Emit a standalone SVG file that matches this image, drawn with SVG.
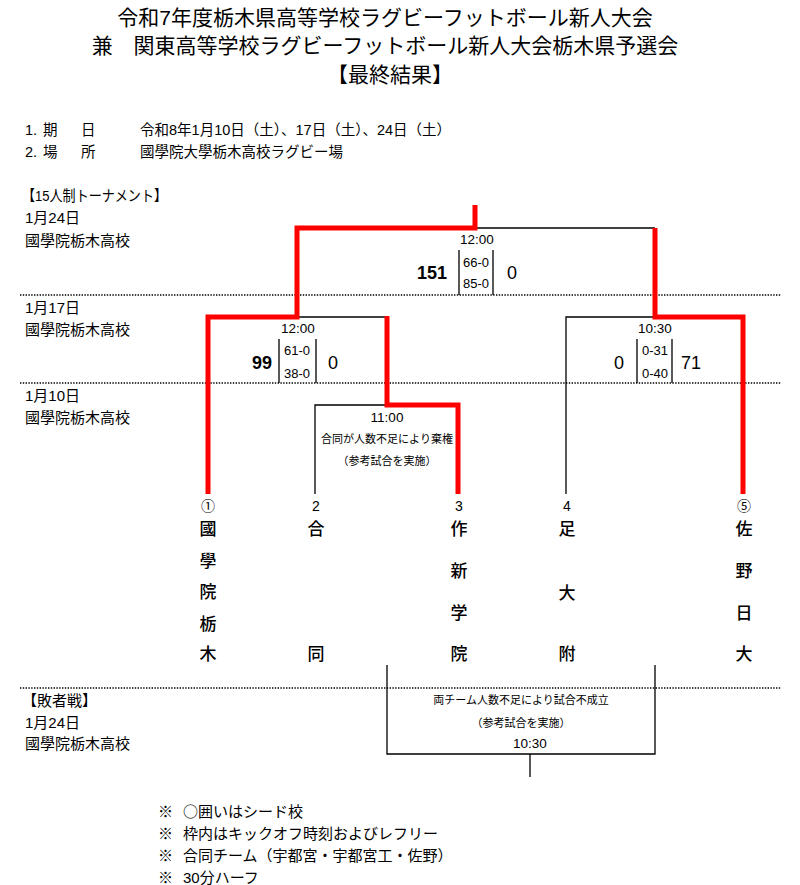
<svg xmlns="http://www.w3.org/2000/svg" width="800" height="885" viewBox="0 0 800 885">
<style>
text{font-family:"Liberation Sans","Noto Sans CJK JP",sans-serif;fill:#000}
.title{font-size:21px;text-anchor:middle}
.info{font-size:14.5px}
.lbl{font-size:15px}
.time{font-size:13.5px;text-anchor:middle}
.sc{font-size:13px;text-anchor:middle}
.big{font-size:18px;text-anchor:middle;font-weight:bold}
.reg{font-size:18px;text-anchor:middle}
.small{font-size:11px;text-anchor:middle}
.num{font-size:14px;text-anchor:middle}
.team{font-size:17px;text-anchor:middle;font-weight:500}
.note{font-size:15px}
.cjk{font-family:"Noto Sans CJK JP",sans-serif}
.dot{stroke:#000;stroke-width:1.4;stroke-dasharray:1.4 1.4;fill:none}
.blk{stroke:#000;stroke-width:1.3;fill:none}
.red{stroke:#ff0000;stroke-width:5;fill:none;stroke-linejoin:miter}
</style>
<rect width="800" height="885" fill="#fff"/>
<g id="title">
<text class="title" x="385" y="25">令和7年度栃木県高等学校ラグビーフットボール新人大会</text>
<text class="title" x="385" y="53">兼　関東高等学校ラグビーフットボール新人大会栃木県予選会</text>
<text class="title" x="390" y="82">【最終結果】</text>
</g>
<g id="info">
<text class="info" x="25" y="135">1.</text><text class="info" x="43" y="135">期</text><text class="info" x="81" y="135">日</text>
<text class="info" x="140" y="135">令和8年1月10日（土）、17日（土）、24日（土）</text>
<text class="info" x="25" y="157">2.</text><text class="info" x="43" y="157">場</text><text class="info" x="81" y="157">所</text>
<text class="info" x="140" y="157">國學院大學栃木高校ラグビー場</text>
</g>
<g id="rows">
<text class="lbl" x="22" y="200.5" textLength="145" lengthAdjust="spacingAndGlyphs">【15人制トーナメント】</text>
<text class="lbl" x="25" y="222.5">1月24日</text>
<text class="lbl" x="25" y="245.5">國學院栃木高校</text>
<text class="lbl" x="25" y="312.5">1月17日</text>
<text class="lbl" x="25" y="334.5">國學院栃木高校</text>
<text class="lbl" x="25" y="400.5">1月10日</text>
<text class="lbl" x="25" y="422.5">國學院栃木高校</text>
<text class="lbl" x="22" y="705.5">【敗者戦】</text>
<text class="lbl" x="25" y="727.5">1月24日</text>
<text class="lbl" x="25" y="748.5">國學院栃木高校</text>
<path class="dot" d="M20,295H781M20,383H781M20,688H781"/>
</g>
<g id="connectors">
<path class="blk" d="M475,228H655"/>
<path class="blk" d="M297,317H387"/>
<path class="blk" d="M566,494V317H655"/>
<path class="blk" d="M315,494V405H387"/>
<path class="blk" d="M387,665V754H655V665M530,754V777"/>
<path class="red" d="M475,205V228H297V317H208V494"/>
<path class="red" d="M655,228V317H743V494"/>
<path class="red" d="M387,316V405H458V494"/>
</g>
<g id="match-final">
<text class="time" x="477" y="244">12:00</text>
<path class="blk" d="M459,250V295M493,250V295"/>
<text class="sc" x="476" y="267">66-0</text>
<text class="sc" x="476" y="288">85-0</text>
<text class="big" x="432" y="278.5">151</text>
<text class="reg" x="512" y="278.5">0</text>
</g>
<g id="match-sf1">
<text class="time" x="298" y="333">12:00</text>
<path class="blk" d="M279,339V383M316,339V383"/>
<text class="sc" x="297" y="355">61-0</text>
<text class="sc" x="297" y="378">38-0</text>
<text class="big" x="262" y="368.5">99</text>
<text class="reg" x="333" y="368.5">0</text>
</g>
<g id="match-sf2">
<text class="time" x="655" y="333">10:30</text>
<path class="blk" d="M637,339V383M672,339V383"/>
<text class="sc" x="655" y="355">0-31</text>
<text class="sc" x="655" y="378">0-40</text>
<text class="reg" x="619" y="368.5">0</text>
<text class="reg" x="691" y="368.5">71</text>
</g>
<g id="match-qf">
<text class="time" x="387" y="422">11:00</text>
<text class="small" x="387" y="443">合同が人数不足により棄権</text>
<text class="small" x="387" y="465">（参考試合を実施）</text>
</g>
<g id="match-consolation">
<text class="small" x="521" y="704">両チーム人数不足により試合不成立</text>
<text class="small" x="521" y="727">（参考試合を実施）</text>
<text class="time" x="530" y="748">10:30</text>
</g>
<g id="team-1">
<text class="num" x="208" y="511">①</text>
<text class="team" x="208" y="535">國</text>
<text class="team" x="208" y="567">學</text>
<text class="team" x="208" y="598">院</text>
<text class="team" x="208" y="630">栃</text>
<text class="team" x="208" y="660">木</text>
</g>
<g id="team-2">
<text class="num" x="316" y="511">2</text>
<text class="team" x="316" y="535">合</text>
<text class="team" x="316" y="660">同</text>
</g>
<g id="team-3">
<text class="num" x="459" y="511">3</text>
<text class="team" x="459" y="535">作</text>
<text class="team" x="459" y="577">新</text>
<text class="team" x="459" y="619">学</text>
<text class="team" x="459" y="660">院</text>
</g>
<g id="team-4">
<text class="num" x="567" y="511">4</text>
<text class="team" x="567" y="535">足</text>
<text class="team" x="567" y="599">大</text>
<text class="team" x="567" y="660">附</text>
</g>
<g id="team-5">
<text class="num" x="744" y="511">⑤</text>
<text class="team" x="744" y="535">佐</text>
<text class="team" x="744" y="577">野</text>
<text class="team" x="744" y="619">日</text>
<text class="team" x="744" y="660">大</text>
</g>
<g id="notes">
<text class="note" x="158" y="817">※</text><text class="note" x="183" y="817"><tspan class="cjk">○</tspan>囲いはシード校</text>
<text class="note" x="158" y="839">※</text><text class="note" x="183" y="839">枠内はキックオフ時刻およびレフリー</text>
<text class="note" x="158" y="861">※</text><text class="note" x="183" y="861">合同チーム（宇都宮・宇都宮工・佐野）</text>
<text class="note" x="158" y="883">※</text><text class="note" x="183" y="883">30分ハーフ</text>
</g>
</svg>
